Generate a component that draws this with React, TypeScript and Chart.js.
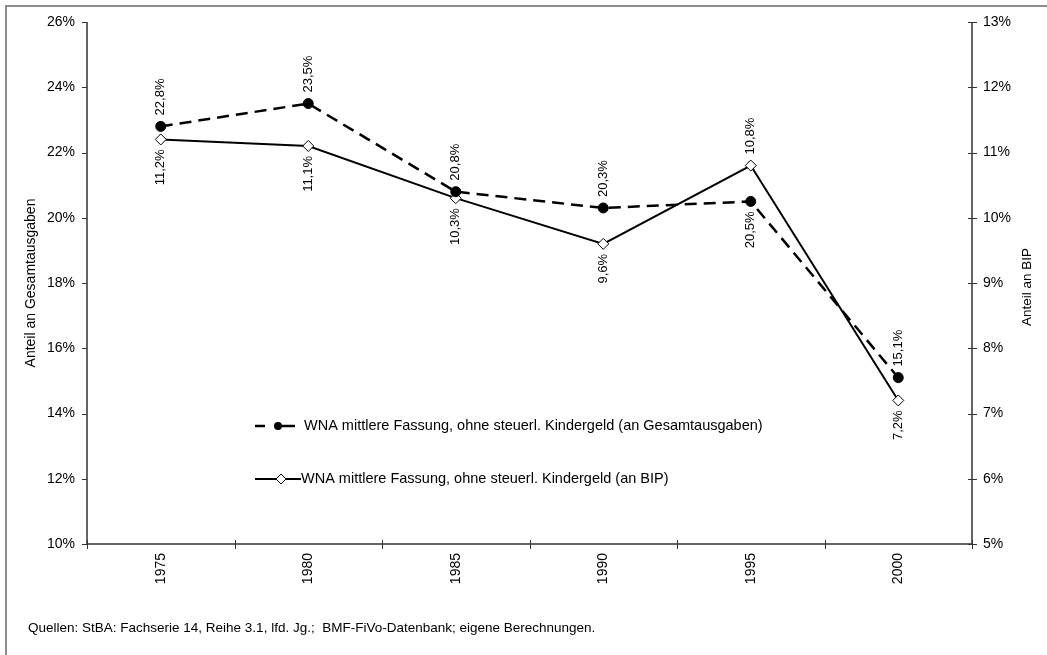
import React, { useEffect, useRef } from "react";
import { Chart, registerables } from "chart.js";

Chart.register(...registerables);

const years = ["1975", "1980", "1985", "1990", "1995", "2000"];
const shareOfSpending = [22.8, 23.5, 20.8, 20.3, 20.5, 15.1];
const shareOfGdp = [11.2, 11.1, 10.3, 9.6, 10.8, 7.2];
const spendingLabelSide = ["above", "above", "above", "above", "below", "above"];
const gdpLabelSide = ["below", "below", "below", "below", "above", "below"];
const seriesNames = [
  "WNA mittlere Fassung, ohne steuerl. Kindergeld (an Gesamtausgaben)",
  "WNA mittlere Fassung, ohne steuerl. Kindergeld (an BIP)",
];
const leftAxisTitle = "Anteil an Gesamtausgaben";
const rightAxisTitle = "Anteil an BIP";
const sourceNote =
  "Quellen: StBA: Fachserie 14, Reihe 3.1, lfd. Jg.;  BMF-FiVo-Datenbank; eigene Berechnungen.";

const FAMILY = "'Liberation Sans', Arial, sans-serif";
const font = (px: number) => `${px}px ${FAMILY}`;
const fmt = (v: number) => v.toFixed(1).replace(".", ",") + "%";

const decorPlugin = {
  id: "decor",
  afterDraw(chart: any) {
    const ctx = chart.ctx as CanvasRenderingContext2D;
    const area = chart.chartArea;
    const xs = chart.scales.x;
    const yl = chart.scales.y;
    const yr = chart.scales.y1;
    ctx.save();
    // frame
    ctx.strokeStyle = "#8c8c8c";
    ctx.lineWidth = 2;
    ctx.beginPath();
    ctx.moveTo(6, 660);
    ctx.lineTo(6, 6);
    ctx.lineTo(1050, 6);
    ctx.stroke();

    // axes
    ctx.strokeStyle = "#333";
    ctx.lineWidth = 1.5;
    ctx.beginPath();
    ctx.moveTo(area.left, area.top);
    ctx.lineTo(area.left, area.bottom);
    ctx.lineTo(area.right, area.bottom);
    ctx.moveTo(area.right, area.top);
    ctx.lineTo(area.right, area.bottom);
    ctx.stroke();

    ctx.lineWidth = 1;
    ctx.beginPath();
    yl.ticks.forEach((t: any) => {
      const py = Math.round(yl.getPixelForValue(t.value)) + 0.5;
      ctx.moveTo(area.left - 5, py);
      ctx.lineTo(area.left, py);
    });
    yr.ticks.forEach((t: any) => {
      const py = Math.round(yr.getPixelForValue(t.value)) + 0.5;
      ctx.moveTo(area.right - 4, py);
      ctx.lineTo(area.right + 5, py);
    });
    for (let i = 0; i <= years.length; i++) {
      const px = Math.round(xs.getPixelForValue(i - 0.5)) + 0.5;
      ctx.moveTo(px, area.bottom - 4);
      ctx.lineTo(px, area.bottom + 5);
    }
    ctx.stroke();

    // data labels
    ctx.fillStyle = "#000";
    ctx.font = font(13);
    ctx.textBaseline = "middle";
    const drawLabels = (dsIndex: number, values: number[], sides: string[]) => {
      const meta = chart.getDatasetMeta(dsIndex);
      meta.data.forEach((pt: any, i: number) => {
        const above = sides[i] === "above";
        ctx.save();
        ctx.translate(pt.x, above ? pt.y - 11 : pt.y + 10);
        ctx.rotate(-Math.PI / 2);
        ctx.textAlign = above ? "left" : "right";
        ctx.fillText(fmt(values[i]), 0, 0);
        ctx.restore();
      });
    };
    drawLabels(0, shareOfSpending, spendingLabelSide);
    drawLabels(1, shareOfGdp, gdpLabelSide);

    // axis titles
    ctx.textAlign = "center";
    ctx.font = font(14);
    ctx.save();
    ctx.translate(31, (area.top + area.bottom) / 2);
    ctx.rotate(-Math.PI / 2);
    ctx.fillText(leftAxisTitle, 0, 0);
    ctx.restore();
    ctx.font = font(13.5);
    ctx.save();
    ctx.translate(1027, (area.top + area.bottom) / 2 + 4);
    ctx.rotate(-Math.PI / 2);
    ctx.fillText(rightAxisTitle, 0, 0);
    ctx.restore();

    // legend
    const r1 = 426;
    const r2 = 479;
    ctx.strokeStyle = "#000";
    ctx.fillStyle = "#000";
    ctx.lineWidth = 2.5;
    ctx.beginPath();
    ctx.moveTo(255, r1);
    ctx.lineTo(265, r1);
    ctx.moveTo(281, r1);
    ctx.lineTo(295, r1);
    ctx.stroke();
    ctx.beginPath();
    ctx.arc(278, r1, 4, 0, Math.PI * 2);
    ctx.fill();
    ctx.font = font(14.5);
    ctx.textAlign = "left";
    ctx.fillText(seriesNames[0], 304, r1);

    ctx.lineWidth = 2;
    ctx.beginPath();
    ctx.moveTo(255, r2);
    ctx.lineTo(301, r2);
    ctx.stroke();
    const dx = 281;
    ctx.beginPath();
    ctx.moveTo(dx, r2 - 5);
    ctx.lineTo(dx + 5, r2);
    ctx.lineTo(dx, r2 + 5);
    ctx.lineTo(dx - 5, r2);
    ctx.closePath();
    ctx.fillStyle = "#fff";
    ctx.fill();
    ctx.lineWidth = 1;
    ctx.stroke();
    ctx.fillStyle = "#000";
    ctx.fillText(seriesNames[1], 301, r2);

    // footer
    ctx.font = font(13.5);
    ctx.fillText(sourceNote, 28, 628);
    ctx.restore();
  },
};

export default function App() {
  const ref = useRef<HTMLCanvasElement>(null);
  useEffect(() => {
    if (!ref.current) return;
    const chart = new Chart(ref.current, {
      type: "line",
      data: {
        labels: years,
        datasets: [
          {
            label: seriesNames[0],
            data: shareOfSpending,
            yAxisID: "y",
            borderColor: "#000",
            borderWidth: 2.5,
            borderDash: [12, 7],
            pointStyle: "circle",
            pointRadius: 5,
            pointBackgroundColor: "#000",
            pointBorderColor: "#000",
            pointBorderWidth: 1,
            tension: 0,
          },
          {
            label: seriesNames[1],
            data: shareOfGdp,
            yAxisID: "y1",
            borderColor: "#000",
            borderWidth: 2,
            pointStyle: "rectRot",
            pointRadius: 5.5,
            pointBackgroundColor: "#fff",
            pointBorderColor: "#000",
            pointBorderWidth: 1,
            tension: 0,
          },
        ],
      },
      options: {
        responsive: false,
        animation: false,
        layout: { padding: { top: 22, left: 0, right: 0, bottom: 0 } },
        plugins: { legend: { display: false }, tooltip: { enabled: false } },
        scales: {
          x: {
            type: "category",
            offset: true,
            grid: { display: false, offset: true },
            border: { display: false },
            ticks: {
              minRotation: 90,
              maxRotation: 90,
              padding: 1,
              color: "#000",
              font: { family: FAMILY, size: 14 },
            },
            afterFit: (s: any) => {
              s.height = 111;
            },
          },
          y: {
            position: "left",
            min: 10,
            max: 26,
            grid: { display: false },
            border: { display: false },
            ticks: {
              stepSize: 2,
              padding: 4,
              color: "#000",
              font: { family: FAMILY, size: 14 },
              callback: (v: any) => v + "%",
            },
            afterFit: (s: any) => {
              s.width = 87;
            },
          },
          y1: {
            position: "right",
            min: 5,
            max: 13,
            grid: { display: false },
            border: { display: false },
            ticks: {
              stepSize: 1,
              padding: 3,
              color: "#000",
              font: { family: FAMILY, size: 14 },
              callback: (v: any) => v + "%",
            },
            afterFit: (s: any) => {
              s.width = 75;
            },
          },
        },
      },
      plugins: [decorPlugin],
    });
    return () => chart.destroy();
  }, []);
  return (
    <div style={{ position: "fixed", left: 0, top: 0, width: 1047, height: 655, background: "#fff" }}>
      <canvas ref={ref} width={1047} height={655} style={{ display: "block" }} />
    </div>
  );
}
